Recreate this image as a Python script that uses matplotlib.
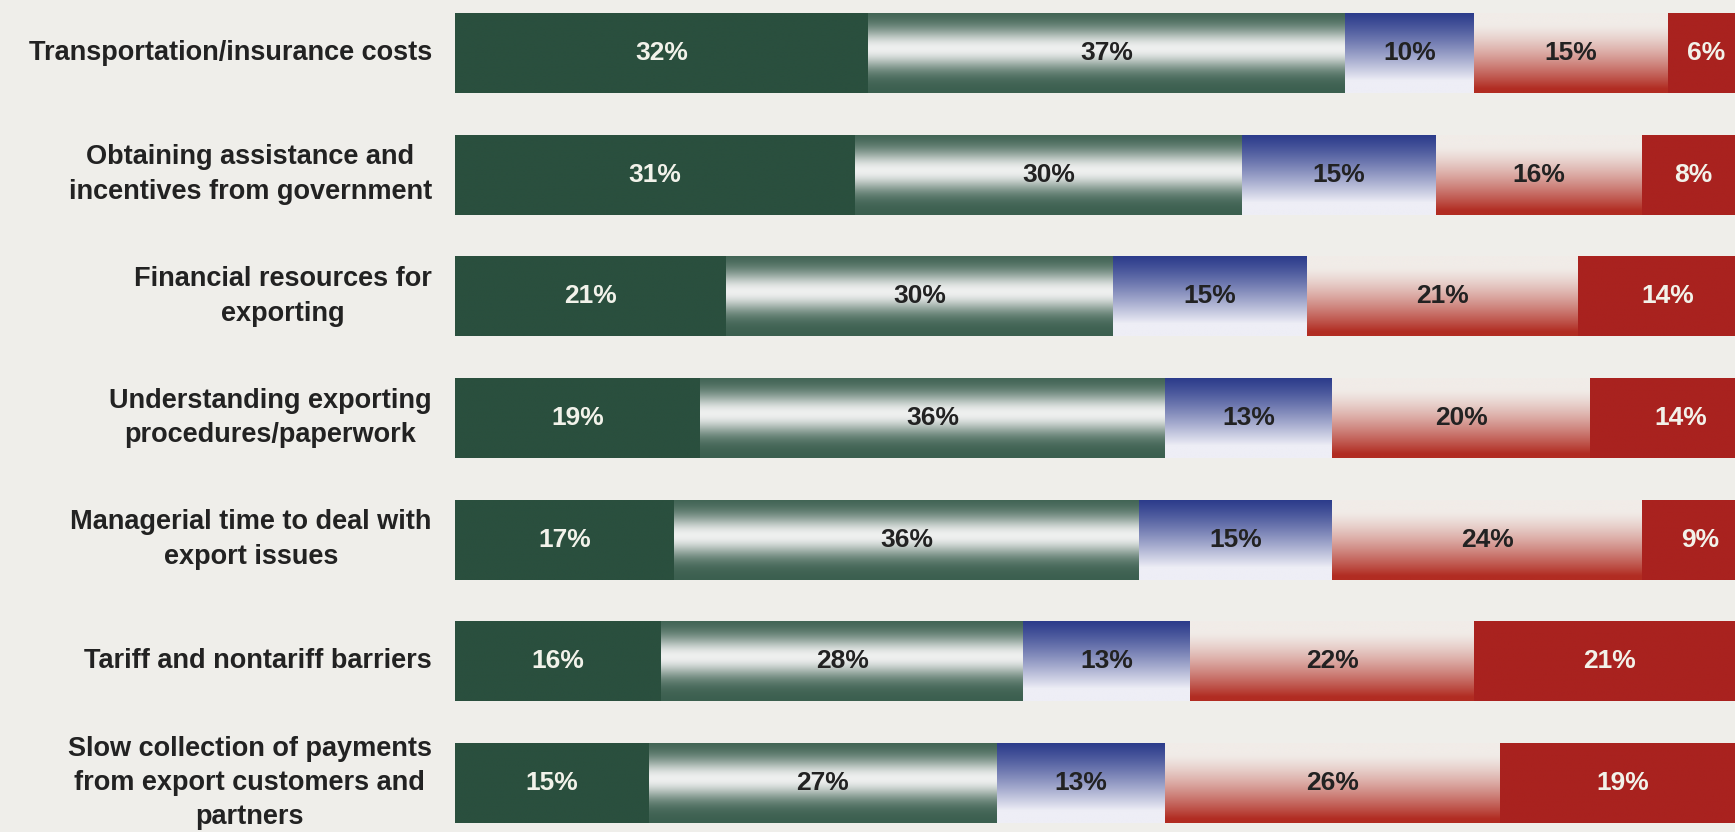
import numpy as np
import matplotlib.pyplot as plt
from matplotlib.colors import to_rgb

categories = [
    "Transportation/insurance costs",
    "Obtaining assistance and\nincentives from government",
    "Financial resources for\nexporting",
    "Understanding exporting\nprocedures/paperwork",
    "Managerial time to deal with\nexport issues",
    "Tariff and nontariff barriers",
    "Slow collection of payments\nfrom export customers and\npartners",
]
major = [32, 31, 21, 19, 17, 16, 15]
moderate = [37, 30, 30, 36, 36, 28, 27]
neutral = [10, 15, 15, 13, 15, 13, 13]
minor = [15, 16, 21, 20, 24, 22, 26]
none_ = [6, 8, 14, 14, 9, 21, 19]
series = [major, moderate, neutral, minor, none_]

BG = "#efeeea"
DARK_GREEN = "#2a4f3e"
DARK_RED = "#a9221f"
BLUE = "#2b3b8b"
RED = "#b12c22"
WHITE = "#f4f4f4"


def vertical_gradient(weights, color, light=WHITE):
    # weights: 0 -> color, 1 -> light; one row per sample, top to bottom
    c = np.array(to_rgb(color))
    l = np.array(to_rgb(light))
    w = np.asarray(weights)[:, None]
    return (c * (1 - w) + l * w)[:, None, :]


t = np.linspace(0, 1, 200)
fills = [
    vertical_gradient(np.zeros_like(t), DARK_GREEN),
    vertical_gradient(np.exp(-((t - 0.45) / 0.25) ** 2) * 0.97, "#3a5e4e"),
    vertical_gradient(np.clip(t / 0.85, 0, 1) ** 1.2, BLUE, "#eeeef6"),
    vertical_gradient(1 - np.clip((t - 0.15) / 0.8, 0, 1) ** 1.3, RED, "#f1ece8"),
    vertical_gradient(np.zeros_like(t), DARK_RED),
]
text_colors = ["#f2f2ea", "#222222", "#222222", "#222222", "#f2f2ea"]

plt.rcParams['font.family'] = ['Liberation Sans', 'DejaVu Sans']
fig = plt.figure(figsize=(17.35, 8.32), dpi=100, facecolor=BG)
ax = fig.add_axes([455 / 1735, 0, 1 - 455 / 1735, 1])
ax.set_facecolor(BG)

y = np.arange(len(categories))
height = 0.66
left = np.zeros(len(categories))
for vals, fill, tc in zip(series, fills, text_colors):
    bars = ax.barh(y, vals, left=left, height=height, color="none", edgecolor="none")
    for bar, v in zip(bars, vals):
        x0, y0 = bar.get_x(), bar.get_y()
        img = ax.imshow(fill, extent=[x0, x0 + bar.get_width(), y0 + bar.get_height(), y0],
                        origin="upper", aspect="auto", interpolation="bilinear", zorder=1)
        img.set_clip_path(bar)
        ax.text(x0 + bar.get_width() / 2, y0 + bar.get_height() / 2, f"{v}%",
                ha="center", va="center", color=tc, fontsize=19, fontweight="bold", zorder=3)
    left = left + np.array(vals)

for yi, cat in zip(y, categories):
    ax.text(-1.8, yi, cat, ha="right", va="center", multialignment="center",
            fontsize=19.5, fontweight="bold", color="#222222", linespacing=1.42,
            clip_on=False)

ax.set_xlim(0, 99.2)
ax.set_ylim(6 + 49 / 121.7, -53 / 121.7)
ax.axis("off")

fig.savefig("out.png", dpi=100, facecolor=BG)
